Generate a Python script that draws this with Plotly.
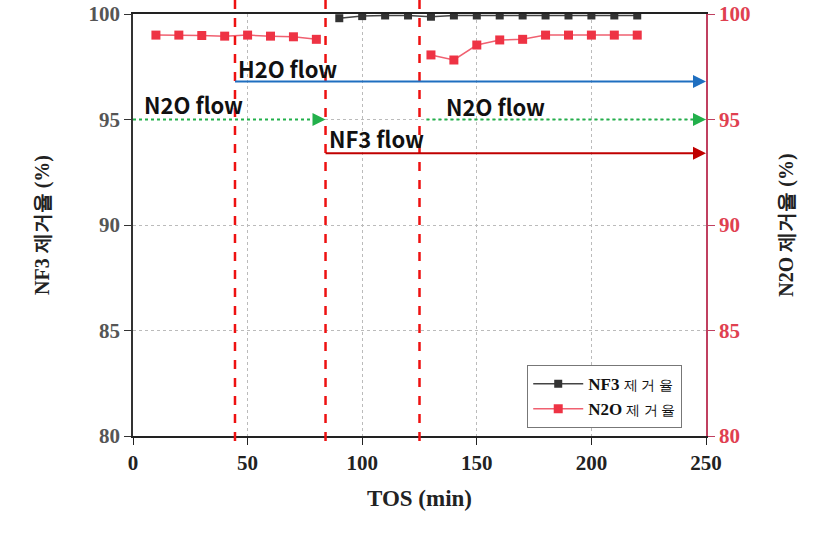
import plotly.graph_objects as go

# data
tos_nf3 = [90, 100, 110, 120, 130, 140, 150, 160, 170, 180, 190, 200, 210, 220]
nf3_removal = [99.8, 99.9, 99.93, 99.93, 99.87, 99.93, 99.93, 99.93, 99.93, 99.93, 99.93, 99.93, 99.93, 99.93]

# None = gap while N2O was switched off
tos_n2o = [10, 20, 30, 40, 50, 60, 70, 80, None, 130, 140, 150, 160, 170, 180, 190, 200, 210, 220]
n2o_removal = [99.0, 99.0, 98.98, 98.95, 99.0, 98.95, 98.92, 98.8, None,
               98.06, 97.82, 98.53, 98.77, 98.8, 99.0, 99.0, 99.0, 99.0, 99.0]

switch_times = [44.5, 84, 125]

# (label, x_start, x_end, y, color, dash)
flows = [
    ("H2O flow", 44.5, 250, 96.8, "#1f6fc0", "solid"),
    ("N2O flow", 0, 84, 95.0, "#22b04b", "dot"),
    ("NF3 flow", 84, 250, 93.4, "#c00000", "solid"),
    ("N2O flow", 128, 250, 95.0, "#22b04b", "dot"),
]
label_pos = [(45.0, 97.45), (4.0, 95.73), (84.5, 94.1), (135.5, 95.64)]

serif = "Liberation Serif"
sans = "Noto Sans CJK KR"

fig = go.Figure()
fig.add_trace(go.Scatter(
    x=tos_nf3, y=nf3_removal, mode="lines+markers",
    name="<b>NF3</b> <span style='font-size:14px'>제 거 율</span>",
    line=dict(color="#444444", width=1.5),
    marker=dict(symbol="square", size=8, color="#333333")))
fig.add_trace(go.Scatter(
    x=tos_n2o, y=n2o_removal, mode="lines+markers", yaxis="y2", connectgaps=False,
    name="<b>N2O</b> <span style='font-size:14px'>제 거 율</span>",
    line=dict(color="#f06070", width=1.5),
    marker=dict(symbol="square", size=9, color="#ee3344")))

# vertical switch lines
for t in switch_times:
    fig.add_shape(type="line", xref="x", yref="paper", x0=t, x1=t, y0=-0.012, y1=1.035,
                  line=dict(color="#ee1111", width=2.5, dash="dash"))

# flow arrows
for (label, xs, xe, y, col, dash), (lx, ly) in zip(flows, label_pos):
    fig.add_shape(type="line", xref="x", yref="y", x0=xs, x1=xe - 3, y0=y, y1=y,
                  line=dict(color=col, width=2, dash=dash))
    fig.add_annotation(x=xe, y=y, ax=xe - 5, ay=y, xref="x", yref="y", axref="x", ayref="y",
                       text="", showarrow=True, arrowhead=2, arrowsize=1.3, arrowwidth=2,
                       arrowcolor=col, standoff=0)
    fig.add_annotation(x=lx, y=ly, xref="x", yref="y", text=f"<b>{label}</b>", showarrow=False,
                       xanchor="left", yanchor="middle",
                       font=dict(family=sans, size=22, color="#111111"))

fig.update_layout(
    width=815, height=535,
    margin=dict(l=133, r=109, t=14, b=99),
    plot_bgcolor="white", paper_bgcolor="white",
    showlegend=True,
    legend=dict(x=0.688, y=0.168, xanchor="left", yanchor="top",
                bgcolor="white", bordercolor="#777777", borderwidth=1,
                font=dict(family=serif, size=17, color="#111111"),
                tracegroupgap=0, itemwidth=50),
    xaxis=dict(range=[0, 250], tickvals=[0, 50, 100, 150, 200, 250], automargin=False,
               showline=True, linecolor="#222222", linewidth=1.5, mirror=True,
               ticks="outside", ticklen=7, tickcolor="#222222",
               showgrid=True, gridcolor="#bbbbbb", griddash="dot", zeroline=False,
               tickfont=dict(family=serif, size=21, color="#222222", weight="bold"),
               title=dict(text="<b>TOS (min)</b>", font=dict(family=serif, size=23, color="#222222"),
                          standoff=16)),
    yaxis=dict(range=[80, 100], tickvals=[80, 85, 90, 95, 100], automargin=False,
               showline=True, linecolor="#333333", linewidth=1.5,
               ticks="outside", ticklen=7, tickcolor="#333333",
               showgrid=True, gridcolor="#bbbbbb", griddash="dot", zeroline=False,
               tickfont=dict(family=serif, size=21, color="#555555", weight="bold"),
               title=dict(text="<b>NF3 제거율 (%)</b>", font=dict(family=serif, size=20, color="#222222"),
                          standoff=34)),
    yaxis2=dict(range=[80, 100], tickvals=[80, 85, 90, 95, 100], overlaying="y", side="right",
                automargin=False,
                showline=True, linecolor="#c04060", linewidth=1.5,
                ticks="outside", ticklen=7, tickcolor="#c04060",
                showgrid=False, zeroline=False,
                tickfont=dict(family=serif, size=21, color="#e04050", weight="bold"),
                title=dict(text="<b>N2O 제거율 (%)</b>", font=dict(family=serif, size=20, color="#222222"),
                           standoff=30)),
)

# drop the default page margin so the figure sits at the window origin
fig.write_html("out.html", config={"displayModeBar": False},
               post_script="document.body.style.margin='0';")
